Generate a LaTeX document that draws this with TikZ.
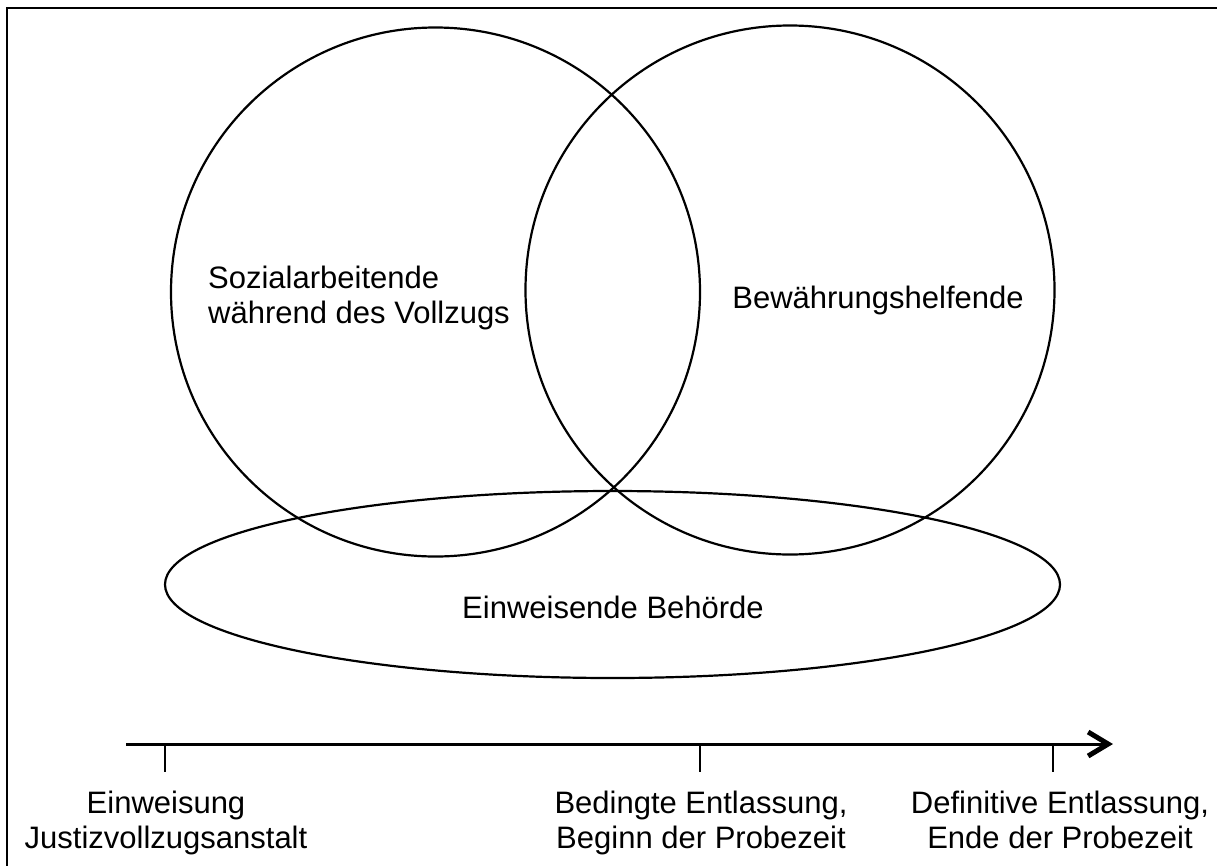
\documentclass[tikz,border=0pt]{standalone}
\usepackage{fontspec}
\setmainfont{Liberation Sans}
\usetikzlibrary{arrows.meta,shapes.geometric}
\begin{document}
\begin{tikzpicture}[x=1pt,y=-1pt,
  lbl/.style={font=\fontsize{31}{35}\selectfont, inner sep=0pt},
  ring/.style={draw, line width=2.2pt, inner sep=0pt},
  tickline/.style={line width=2pt},
  axisline/.style={line width=3pt, -{Straight Barb[length=20pt,width=24pt,line width=5pt]}}]
\useasboundingbox (0,0) rectangle (1217,865);
\clip (0,0) rectangle (1217,865);
\draw[line width=2.5pt] (7,8) rectangle (1225,875);
% circles and ellipse
\node[ring, circle, minimum size=529pt] (left) at (435.5,292) {};
\node[ring, circle, minimum size=529pt] (right) at (790,290) {};
\node[ring, ellipse, minimum width=895pt, minimum height=187pt] (ell) at (612.5,584.5) {};
% texts
\node[lbl, anchor=base west, align=left] (soz) at (208,323) {Sozialarbeitende\\während des Vollzugs};
\node[lbl, anchor=base] (bew) at (878,308) {Bewährungshelfende};
\node[lbl, anchor=base] (ein) at (613,618) {Einweisende Behörde};
% time axis
\coordinate (axs) at (126,744);
\coordinate (axe) at (1113,744);
\draw[axisline] (axs) -- (axe);
\coordinate (t1a) at (165,744);
\coordinate (t1b) at (165,772);
\coordinate (t2a) at (700,744);
\coordinate (t2b) at (700,772);
\coordinate (t3a) at (1053,744);
\coordinate (t3b) at (1053,772);
\draw[tickline] (t1a) -- (t1b);
\draw[tickline] (t2a) -- (t2b);
\draw[tickline] (t3a) -- (t3b);
\node[lbl, anchor=base, align=center] (l1) at (166,848) {Einweisung\\Justizvollzugsanstalt};
\node[lbl, anchor=base, align=center] (l2) at (701,848) {Bedingte Entlassung,\\Beginn der Probezeit};
\node[lbl, anchor=base, align=center] (l3) at (1060,848) {Definitive Entlassung,\\Ende der Probezeit};
\end{tikzpicture}
\end{document}
